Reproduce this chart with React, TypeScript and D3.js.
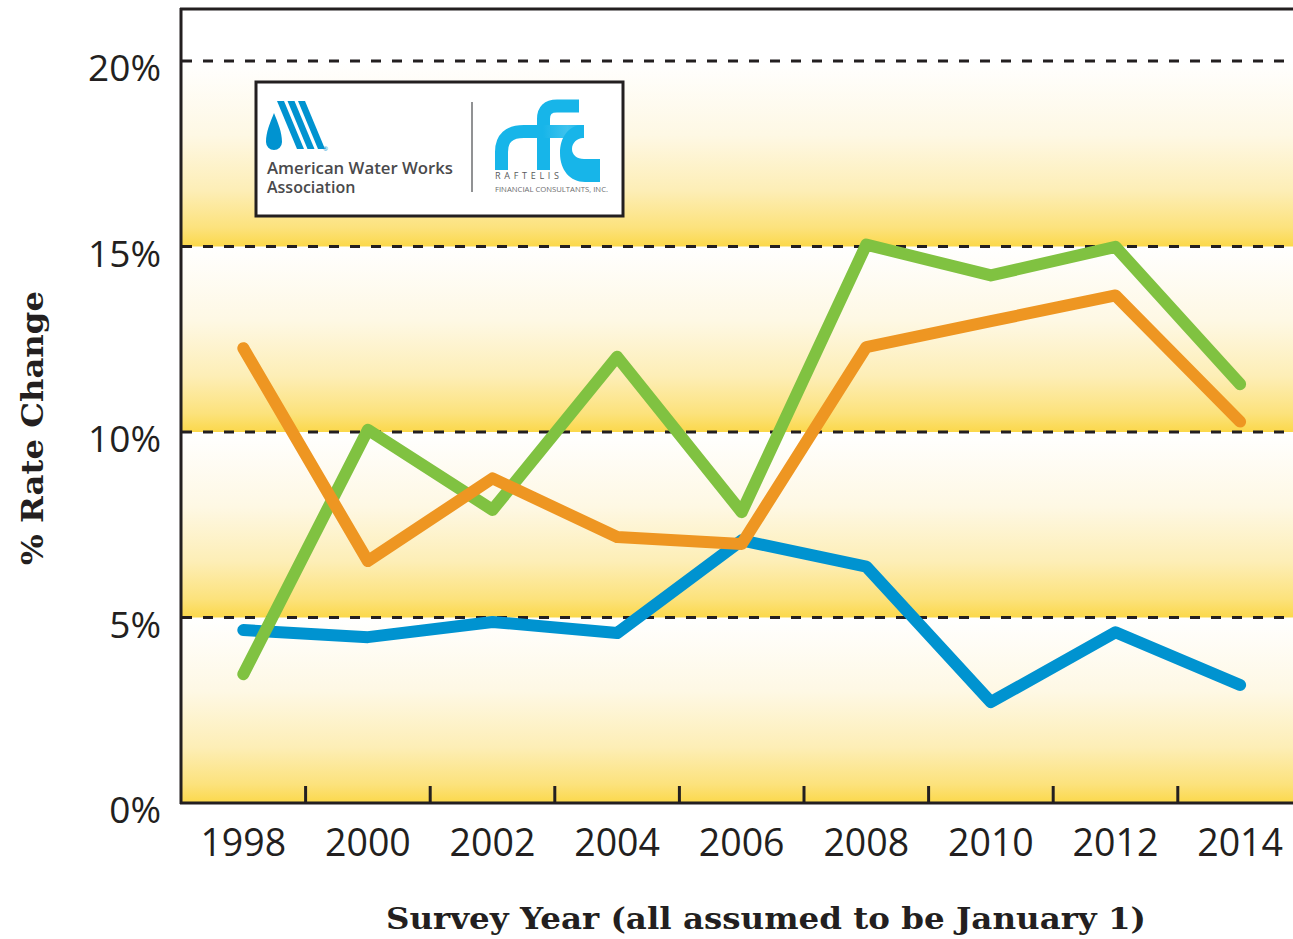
import React from "react";
import * as d3 from "d3";

const years = [1998, 2000, 2002, 2004, 2006, 2008, 2010, 2012, 2014];
const blueSeries = [4.66, 4.47, 4.88, 4.58, 7.08, 6.37, 2.72, 4.6, 3.18];
const orangeSeries = [12.26, 6.52, 8.75, 7.17, 6.98, 12.29, 12.99, 13.68, 10.28];
const greenSeries = [3.47, 10.06, 7.9, 12.03, 7.84, 15.05, 14.22, 14.99, 11.29];
const yTicks = [0, 5, 10, 15, 20];
const yTickLabels = ["0%", "5%", "10%", "15%", "20%"];
const xTitle = "Survey Year (all assumed to be January 1)";
const yTitle = "% Rate Change";

const W = 1293;
const H = 939;
const ink = "#231f20";

export default function App() {
  const x = d3
    .scaleBand<number>()
    .domain(years)
    .range([181, 181 + 9 * 124.6])
    .paddingInner(0)
    .paddingOuter(0);
  const cx = (yr: number) => (x(yr) as number) + x.bandwidth() / 2;
  const y = d3.scaleLinear().domain([0, 20]).range([803, 61]);
  const line = d3
    .line<number>()
    .x((_, i) => cx(years[i]))
    .y((v) => y(v));

  const series = [
    { vals: blueSeries, color: "#0093d0" },
    { vals: greenSeries, color: "#80c241" },
    { vals: orangeSeries, color: "#ee9622" },
  ];

  const bandStarts = [0, 5, 10, 15];
  const boundaries = years.slice(1).map((yr) => x(yr) as number);

  return (
    <svg
      width={W}
      height={H}
      style={{ position: "absolute", left: 0, top: 0, background: "#fff" }}
    >
      <defs>
        <linearGradient id="bandGrad" x1="0" y1="0" x2="0" y2="1">
          <stop offset="0" stopColor="#ffffff" />
          <stop offset="0.4" stopColor="#fef8e4" />
          <stop offset="0.7" stopColor="#fdeeb6" />
          <stop offset="0.9" stopColor="#fce27c" />
          <stop offset="1" stopColor="#fbd84b" />
        </linearGradient>
        <linearGradient id="barGrad" x1="0" y1="0" x2="1" y2="0">
          <stop offset="0" stopColor="#17b5e9" />
          <stop offset="0.6" stopColor="#3fc3ee" />
          <stop offset="1" stopColor="#17b5e9" />
        </linearGradient>
      </defs>
      <rect x={0} y={0} width={W} height={H} fill="#fff" />
      {bandStarts.map((b) => (
        <rect
          key={b}
          x={181}
          y={y(b + 5)}
          width={W - 181}
          height={y(b) - y(b + 5)}
          fill="url(#bandGrad)"
        />
      ))}
      {/* dashed grid */}
      {yTicks.slice(1).map((t) => (
        <line
          key={t}
          x1={182}
          x2={W}
          y1={y(t)}
          y2={y(t)}
          stroke={ink}
          strokeWidth={3}
          strokeDasharray="10,11"
        />
      ))}
      {/* x ticks */}
      {boundaries.map((bx, i) => (
        <line key={i} x1={bx} x2={bx} y1={786} y2={803} stroke={ink} strokeWidth={3} />
      ))}
      {/* frame */}
      <line x1={180} x2={W} y1={9} y2={9} stroke={ink} strokeWidth={3} />
      <line x1={181} x2={181} y1={8} y2={804} stroke={ink} strokeWidth={3} />
      <line x1={180} x2={W} y1={803} y2={803} stroke={ink} strokeWidth={3} />

      {/* series */}
      {series.map((s, i) => (
        <path
          key={i}
          d={line(s.vals) as string}
          fill="none"
          stroke={s.color}
          strokeWidth={12}
          strokeLinecap="round"
          strokeLinejoin="round"
        />
      ))}

      {/* y labels */}
      {yTicks.map((t, i) => (
        <text
          key={t}
          x={161}
          y={y(t) + 20}
          textAnchor="end"
          fontFamily="'Open Sans', sans-serif"
          fontSize={37}
          fill={ink}
        >
          {yTickLabels[i]}
        </text>
      ))}
      {/* x labels */}
      {years.map((yr) => (
        <text
          key={yr}
          x={cx(yr)}
          y={856}
          textAnchor="middle"
          fontFamily="'Open Sans', sans-serif"
          fontSize={37.5}
          fill={ink}
        >
          {yr}
        </text>
      ))}
      {/* titles */}
      <text
        x={766}
        y={929}
        textAnchor="middle"
        fontFamily="'DejaVu Serif', serif"
        fontWeight="bold"
        fontSize={30}
        fill={ink}
        textLength={760}
        lengthAdjust="spacingAndGlyphs"
      >
        {xTitle}
      </text>
      <text
        transform="translate(43,428) rotate(-90)"
        textAnchor="middle"
        fontFamily="'DejaVu Serif', serif"
        fontWeight="bold"
        fontSize={30}
        fill={ink}
        textLength={274}
        lengthAdjust="spacingAndGlyphs"
      >
        {yTitle}
      </text>

      {/* logo box */}
      <g>
        <rect x={256} y={82} width={367} height={134} fill="#fff" stroke={ink} strokeWidth={3} />
        {/* AWWA mark */}
        <path
          d="M274,113 C270,123 266,132 266,142 A8,8 0 0 0 282,142 C282,132 278,123 274,113 Z"
          fill="#0093d0"
        />
        {[0, 1, 2].map((i) => (
          <polygon
            key={i}
            points={`${277 + 10.5 * i},101 ${284 + 10.5 * i},101 ${304 + 10.5 * i},149 ${297 + 10.5 * i},149`}
            fill="#0093d0"
          />
        ))}
        <text x={323} y={151} fontSize={6} fill="#0093d0" fontFamily="'Open Sans', sans-serif">®</text>
        <text x={267} y={174} fontFamily="'Open Sans', sans-serif" fontWeight={600} fontSize={16} fill="#4a4a4c" textLength={186} lengthAdjust="spacingAndGlyphs">
          American Water Works
        </text>
        <text x={267} y={193} fontFamily="'Open Sans', sans-serif" fontWeight={600} fontSize={16} fill="#4a4a4c">
          Association
        </text>
        <line x1={472} x2={472} y1={102} y2={192} stroke="#6d6e70" strokeWidth={1.5} />
        {/* rfc mark */}
        <g fill="none" stroke="#17b5e9" strokeWidth={13}>
          <path d="M501.5,170 V152 Q501.5,131.5 524,131.5 H543.5" />
          <path d="M543.5,170 V119 Q543.5,106 557,106 H579" />
        </g>
        <rect x={543} y={125} width={41} height={13} fill="url(#barGrad)" />
        <path
          d="M583,125 C568,125 560,138 560,153 C560,170 570,182 585,182 H600 V159 H584 C577,159 572,155 572,149 C572,143 577,138 583,138 Z"
          fill="#17b5e9"
        />
        <text x={495} y={179} fontFamily="'Open Sans', sans-serif" fontSize={9} fill="#58595b" textLength={64} lengthAdjust="spacing">
          RAFTELIS
        </text>
        <text x={495} y={192} fontFamily="'Open Sans', sans-serif" fontSize={6.8} fill="#6d6e70" textLength={113} lengthAdjust="spacingAndGlyphs">
          FINANCIAL CONSULTANTS, INC.
        </text>
      </g>
    </svg>
  );
}
